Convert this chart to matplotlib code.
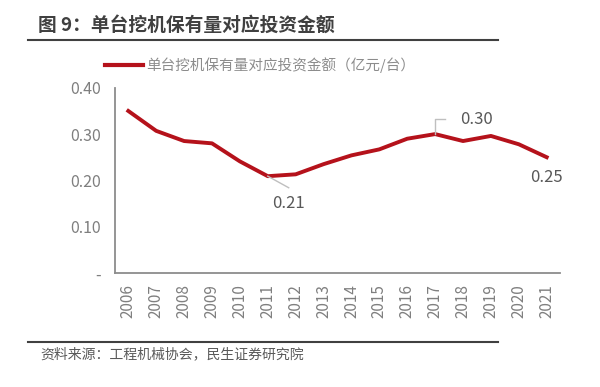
import matplotlib.pyplot as plt
from matplotlib.lines import Line2D

plt.rcParams['font.family'] = ['Noto Sans CJK SC', 'DejaVu Sans']

# ====================================
# Data
# ====================================
years = [2006, 2007, 2008, 2009, 2010, 2011, 2012, 2013,
         2014, 2015, 2016, 2017, 2018, 2019, 2020, 2021]
invest = [0.350, 0.307, 0.285, 0.280, 0.241, 0.209, 0.213, 0.235,
          0.254, 0.267, 0.290, 0.300, 0.285, 0.296, 0.278, 0.250]
yticks = [0, 0.10, 0.20, 0.30, 0.40]
ytick_labels = ["-", "0.10", "0.20", "0.30", "0.40"]
series_name = "单台挖机保有量对应投资金额（亿元/台）"
title = "图 9：单台挖机保有量对应投资金额"
source = "资料来源：工程机械协会，民生证券研究院"

red = "#B5121B"
grey = "#7F7F7F"

# ====================================
# Plot
# ====================================
fig = plt.figure(figsize=(6, 3.87), dpi=100)
ax = fig.add_axes([0.192, 0.295, 0.741, 0.478])

ax.plot(years, invest, color=red, lw=2.8, solid_joinstyle="round")

ax.set_xlim(2005.53, 2021.47)
ax.set_ylim(0, 0.40)
ax.set_xticks(years)
ax.set_xticklabels([str(y) for y in years], rotation=90, color=grey, fontsize=11)
ax.set_yticks(yticks)
ax.set_yticklabels(ytick_labels, color=grey, fontsize=11.5)
ax.tick_params(length=0, pad=10)
ax.tick_params(axis="x", pad=8)
for s in ["top", "right"]:
    ax.spines[s].set_visible(False)
for s in ["left", "bottom"]:
    ax.spines[s].set_color("#8C8C8C")
    ax.spines[s].set_linewidth(1.3)

# data labels
i11 = years.index(2011)
ax.plot([years[i11], years[i11] + 0.75], [invest[i11], invest[i11] - 0.025],
        color="#BFBFBF", lw=1)
ax.text(years[i11] + 0.75, invest[i11] - 0.04, "%.2f" % invest[i11],
        color="#595959", fontsize=12, ha="center", va="top")

i17 = years.index(2017)
ax.plot([years[i17], years[i17], years[i17] + 0.35],
        [invest[i17], invest[i17] + 0.032, invest[i17] + 0.032],
        color="#BFBFBF", lw=1)
ax.text(years[i17] + 0.9, invest[i17] + 0.032, "%.2f" % invest[i17],
        color="#595959", fontsize=12, ha="left", va="center")

i21 = years.index(2021)
ax.text(years[i21], invest[i21] - 0.025, "%.2f" % invest[i21],
        color="#595959", fontsize=12, ha="center", va="top")

# legend
fig.lines.append(Line2D([105 / 600, 143 / 600], [1 - 65 / 387, 1 - 65 / 387],
                        color=red, lw=3, transform=fig.transFigure))
fig.text(146 / 600, 1 - 65 / 387, series_name, color="#8C8C8C",
         fontsize=10.5, va="center", ha="left")

# title and frame lines
fig.text(38 / 600, 1 - 25 / 387, title, fontsize=13.5, fontweight="bold",
         color="#404040", va="center", ha="left")
fig.lines.append(Line2D([28 / 600, 498 / 600], [1 - 40 / 387, 1 - 40 / 387],
                        color="#404040", lw=1.5, transform=fig.transFigure))
fig.lines.append(Line2D([28 / 600, 498 / 600], [1 - 342 / 387, 1 - 342 / 387],
                        color="#404040", lw=1.5, transform=fig.transFigure))
fig.text(40 / 600, 1 - 354 / 387, source, fontsize=10, color="#595959",
         va="center", ha="left")

fig.savefig("out.png", dpi=100)
